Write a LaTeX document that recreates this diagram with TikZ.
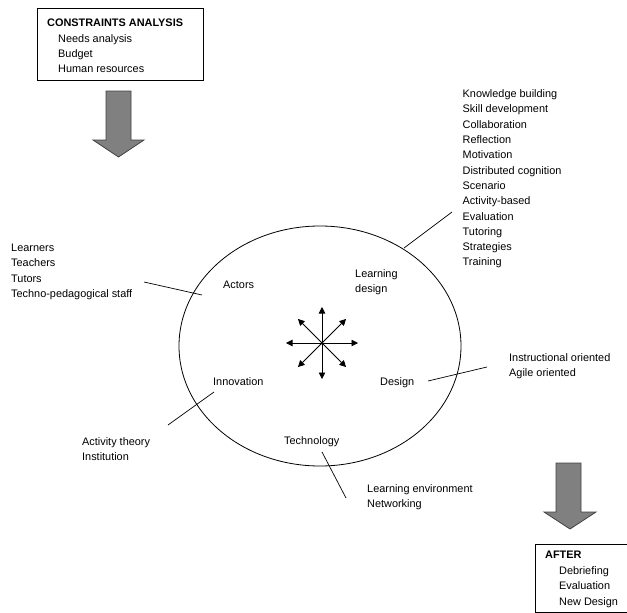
\documentclass[tikz,border=0pt]{standalone}
\usepackage{fontspec}
\setmainfont{Liberation Sans}
\usetikzlibrary{arrows.meta}
\definecolor{arrowgray}{RGB}{128,128,128}
\tikzset{
  txt/.style={inner sep=0pt, anchor=west, align=left, yshift=-2pt, font=\fontsize{10.9}{15.3}\selectfont},
  bigarrow/.style={fill=arrowgray, draw=black!75, line width=0.8pt},
  tick/.style={line width=0.7pt}
}
\begin{document}
\begin{tikzpicture}[x=1pt, y=-1pt]
\useasboundingbox (0,0) rectangle (627,613);

\draw [line width=0.7pt] (37,8) rectangle (203,80);
\node [txt, font=\fontsize{10.9}{15.3}\selectfont\bfseries] at (47, 21) (cons) {CONSTRAINTS ANALYSIS};
\node [txt] at (58, 51.5) (consitems) {Needs analysis\\Budget\\Human resources};

\draw [bigarrow] (106,91) -- (131,91) -- (131,140) -- (144,140) -- (118.5,157)
  -- (93,140) -- (106,140) -- cycle;

\draw [line width=0.8pt] (320,346) ellipse [x radius=141, y radius=120];

\coordinate (c) at (322,343);
\foreach \a/\r in {0/36, 90/36, 180/36, 270/36, 45/34, 135/34, 225/34, 315/34}
  \draw [line width=0.8pt, -{Triangle[length=6.5pt, width=6.5pt]}] (c) -- ++(\a:\r);
\fill (c) circle (1.5);

\node [txt] at (223, 283) (actors) {Actors};
\node [txt] at (355, 280) (ldesign) {Learning\\design};
\node [txt] at (213, 380) (innov) {Innovation};
\node [txt] at (380, 381) (design) {Design};
\node [txt] at (284, 440) (techno) {Technology};

\node [txt] at (11, 270) (people) {Learners\\Teachers\\Tutors\\Techno-pedagogical staff};
\node [txt] at (462.5, 177) (ldlist) {Knowledge building\\Skill development\\Collaboration\\Reflection\\Motivation\\Distributed cognition\\Scenario\\Activity-based\\Evaluation\\Tutoring\\Strategies\\Training};
\node [txt] at (509, 364) (orient) {Instructional oriented\\Agile oriented};
\node [txt] at (82, 447) (theory) {Activity theory\\Institution};
\node [txt] at (367, 495) (envir) {Learning environment\\Networking};

\coordinate (t1a) at (144,282); \coordinate (t1b) at (202,295);
\coordinate (t2a) at (404,248); \coordinate (t2b) at (452,212);
\coordinate (t3a) at (428,381); \coordinate (t3b) at (487,367);
\coordinate (t4a) at (168,425); \coordinate (t4b) at (214,392);
\coordinate (t5a) at (322,452); \coordinate (t5b) at (346,498);
\draw [tick] (t1a) -- (t1b);
\draw [tick] (t2a) -- (t2b);
\draw [tick] (t3a) -- (t3b);
\draw [tick] (t4a) -- (t4b);
\draw [tick] (t5a) -- (t5b);

\draw [bigarrow] (556,463) -- (581,463) -- (581,512) -- (596,512) -- (570,529)
  -- (544,512) -- (556,512) -- cycle;

\draw [line width=0.7pt] (535,544) rectangle (640,612.5);
\node [txt, font=\fontsize{10.9}{15.3}\selectfont\bfseries] at (545, 553) (after) {AFTER};
\node [txt] at (559, 585) (afteritems) {Debriefing\\Evaluation\\New Design};
\end{tikzpicture}
\end{document}
